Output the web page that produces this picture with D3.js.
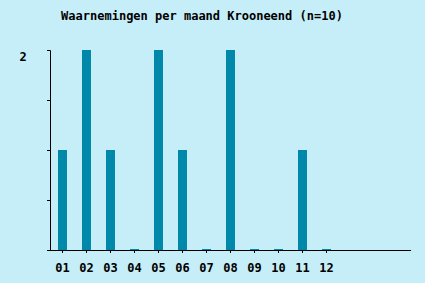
<!DOCTYPE html>
<html lang="nl">
<head>
<meta charset="UTF-8">
<title>Waarnemingen per maand Krooneend</title>
<script src="https://d3js.org/d3.v7.min.js"></script>
<style>
    body { margin: 0; padding: 0; background: #c6eef8; overflow: hidden; }
    svg { display: block; }
    text { font-family: "DejaVu Sans Mono", monospace; font-weight: bold; fill: #000; }
</style>
</head>
<body>
<svg id="chart" width="425" height="283"></svg>
<script>
    // data
    const months = ["01","02","03","04","05","06","07","08","09","10","11","12"];
    const counts = [1, 2, 1, 0, 2, 1, 0, 2, 0, 0, 1, 0];
    const yTicks = [0, 0.5, 1, 1.5, 2];
    const title = "Waarnemingen per maand Krooneend (n=10)";

    const svg = d3.select("#chart");
    const plotLeft = 50, plotTop = 50, plotBottom = 250, axisEnd = 411;

    // 12 slots of 24px each, bars 9px wide
    const x = d3.scaleBand()
        .domain(months)
        .range([plotLeft + 0.5, plotLeft + 0.5 + months.length * 24])
        .paddingInner(0.625)
        .paddingOuter(0.3125);

    const y = d3.scaleLinear().domain([0, 2]).range([plotBottom, plotTop]);

    svg.append("text")
        .attr("x", 202)
        .attr("y", 20)
        .attr("text-anchor", "middle")
        .style("font-size", "12px")
        .text(title);

    // bars (empty months get a 1px stub)
    svg.append("g")
        .selectAll("rect")
        .data(months)
        .join("rect")
        .attr("x", d => x(d))
        .attr("width", x.bandwidth())
        .attr("y", (d, i) => Math.min(y(counts[i]), plotBottom - 1))
        .attr("height", (d, i) => Math.max(plotBottom - y(counts[i]), 1))
        .attr("fill", "#0088aa");

    // y axis
    const yAxis = svg.append("g")
        .attr("transform", `translate(${plotLeft},0)`)
        .call(d3.axisLeft(y).tickValues(yTicks).tickSize(3).tickFormat(""));
    yAxis.select(".domain").attr("d", `M-3,${plotTop + 0.5}H0.5V${plotBottom}`);
    yAxis.selectAll("line").attr("stroke", "#000");

    svg.append("text")
        .attr("x", 23)
        .attr("y", 61)
        .attr("text-anchor", "middle")
        .style("font-size", "12px")
        .text(d3.max(yTicks));

    // x axis
    const xAxis = svg.append("g")
        .attr("transform", `translate(0,${plotBottom})`)
        .call(d3.axisBottom(x).tickSize(3).tickPadding(10).offset(0));
    xAxis.select(".domain").attr("d", `M${plotLeft},0.5H${axisEnd}`);
    xAxis.selectAll("text")
        .style("font-size", "12px")
        .style("font-family", "'DejaVu Sans Mono', monospace");
</script>
</body>
</html>
